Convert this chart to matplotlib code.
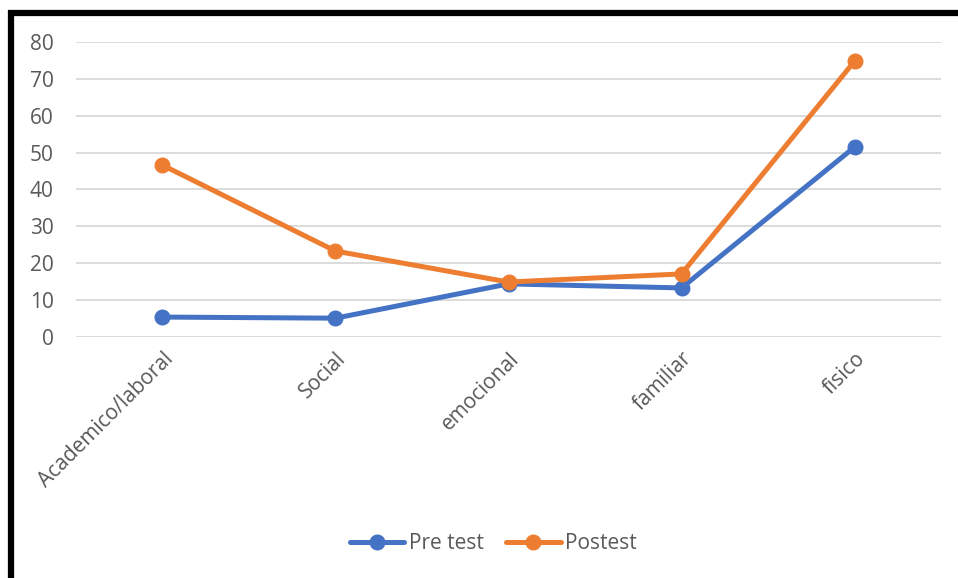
import matplotlib.pyplot as plt
from matplotlib.lines import Line2D

plt.rcParams["font.family"] = ["Open Sans", "DejaVu Sans"]

categories = ["Academico/laboral", "Social", "emocional", "familiar", "fisico"]
pre_test = [5.4, 5.1, 14.4, 13.3, 51.5]
postest = [46.6, 23.3, 14.9, 17.1, 74.8]

grey = "#595959"

fig = plt.figure(figsize=(9.58, 5.78), dpi=100)
ax = fig.add_axes([0.0793, 0.417, 0.903, 0.5103])

x = range(len(categories))
ax.plot(x, pre_test, color="#4472C4", lw=3.6, marker="o", ms=10.5, label="Pre test",
        solid_capstyle="round")
ax.plot(x, postest, color="#ED7D31", lw=3.6, marker="o", ms=10.5, label="Postest",
        solid_capstyle="round")

ax.set_xlim(-0.5, len(categories) - 0.5)
ax.set_ylim(0, 80)
ax.set_yticks(range(0, 81, 10))
ax.set_xticks(list(x))
ax.set_xticklabels(categories, rotation=45, ha="right", rotation_mode="anchor")
ax.tick_params(axis="both", length=0, labelsize=15, labelcolor=grey)
ax.tick_params(axis="y", pad=16)
ax.tick_params(axis="x", pad=8)
ax.yaxis.grid(True, color="#D9D9D9", lw=1.3)
ax.set_axisbelow(True)
for s in ax.spines.values():
    s.set_visible(False)

leg = fig.legend(loc="center", bbox_to_anchor=(0.515, 0.06), ncol=2, frameon=False,
                 fontsize=15, handlelength=2.6, columnspacing=1.1, handletextpad=0.2)
for t in leg.get_texts():
    t.set_color(grey)

# black frame on top and left edges
fig.add_artist(Line2D([8 / 958, 1], [1 - 13 / 578] * 2, color="black", lw=4.5,
                      transform=fig.transFigure, solid_capstyle="butt"))
fig.add_artist(Line2D([11 / 958] * 2, [0, 1 - 10 / 578], color="black", lw=4.5,
                      transform=fig.transFigure, solid_capstyle="butt"))

fig.savefig("out.png", dpi=100)
